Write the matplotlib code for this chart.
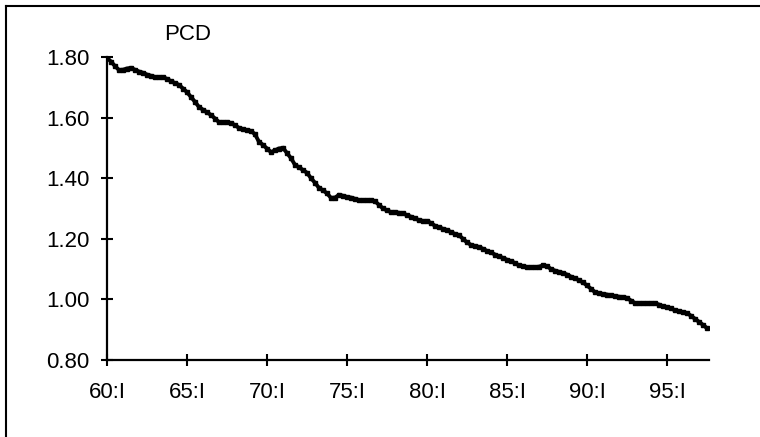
import matplotlib
matplotlib.use("Agg")
import matplotlib.pyplot as plt
from matplotlib.lines import Line2D

plt.rcParams['font.family'] = ['Liberation Sans', 'DejaVu Sans']

# quarterly values, 60:I .. 97:III
pcd = [
    1.797, 1.785, 1.770, 1.757, 1.758, 1.762, 1.764, 1.758, 1.752, 1.748,
    1.742, 1.738, 1.734, 1.734, 1.733, 1.728, 1.720, 1.714, 1.708, 1.696,
    1.684, 1.668, 1.652, 1.635, 1.626, 1.617, 1.609, 1.597, 1.585, 1.585,
    1.584, 1.582, 1.575, 1.566, 1.562, 1.558, 1.556, 1.545, 1.520, 1.510,
    1.498, 1.486, 1.492, 1.498, 1.500, 1.483, 1.466, 1.444, 1.436, 1.427,
    1.418, 1.400, 1.385, 1.368, 1.360, 1.350, 1.335, 1.336, 1.345, 1.342,
    1.338, 1.336, 1.332, 1.328, 1.328, 1.328, 1.328, 1.324, 1.312, 1.300,
    1.294, 1.288, 1.287, 1.286, 1.284, 1.278, 1.273, 1.268, 1.261, 1.259,
    1.259, 1.252, 1.243, 1.238, 1.233, 1.229, 1.222, 1.216, 1.212, 1.200,
    1.188, 1.180, 1.176, 1.173, 1.167, 1.160, 1.155, 1.148, 1.142, 1.137,
    1.131, 1.126, 1.120, 1.112, 1.109, 1.107, 1.107, 1.106, 1.108, 1.112,
    1.110, 1.100, 1.095, 1.091, 1.087, 1.082, 1.075, 1.070, 1.063, 1.056,
    1.046, 1.035, 1.024, 1.020, 1.018, 1.016, 1.013, 1.011, 1.009, 1.007,
    1.005, 0.996, 0.988, 0.988, 0.987, 0.988, 0.987, 0.987, 0.983, 0.977,
    0.974, 0.970, 0.964, 0.961, 0.958, 0.955, 0.946, 0.936, 0.926, 0.916,
    0.905,
]
roman = ['I', 'II', 'III', 'IV']
quarters = ['%02d:%s' % (60 + k // 4, roman[k % 4]) for k in range(len(pcd))]
yticks = [0.80, 1.00, 1.20, 1.40, 1.60, 1.80]

fig = plt.figure(figsize=(7.6, 4.37), dpi=100)
ax = fig.add_axes([107/760, 1 - 360/437, 602/760, 303/437])

x = list(range(len(pcd)))
ax.plot(x, pcd, color='black', lw=2.8, marker='s', ms=2.8, solid_joinstyle='miter')

ax.set_xlim(0, 150.5)
ax.set_ylim(0.8, 1.8)
ax.set_yticks(yticks)
ax.set_yticklabels(['%.2f' % v for v in yticks])
ax.set_xticks(x[::20])
ax.set_xticklabels(quarters[::20])

for s in ['top', 'right']:
    ax.spines[s].set_visible(False)
for s in ['left', 'bottom']:
    ax.spines[s].set_linewidth(1.6)
ax.tick_params(direction='inout', length=9, width=1.5, labelsize=16, colors='black')
ax.tick_params(axis='y', pad=8)
ax.tick_params(axis='x', pad=11)

fig.text(188/760, 1 - 34/437, 'PCD', ha='center', va='center', fontsize=16)

# chart border
fig.add_artist(Line2D([6/760, 6/760], [0, 1 - 6/437], color='black', lw=1.5, transform=fig.transFigure))
fig.add_artist(Line2D([6/760, 1], [1 - 6/437, 1 - 6/437], color='black', lw=1.5, transform=fig.transFigure))

fig.savefig('out.png', dpi=100)
